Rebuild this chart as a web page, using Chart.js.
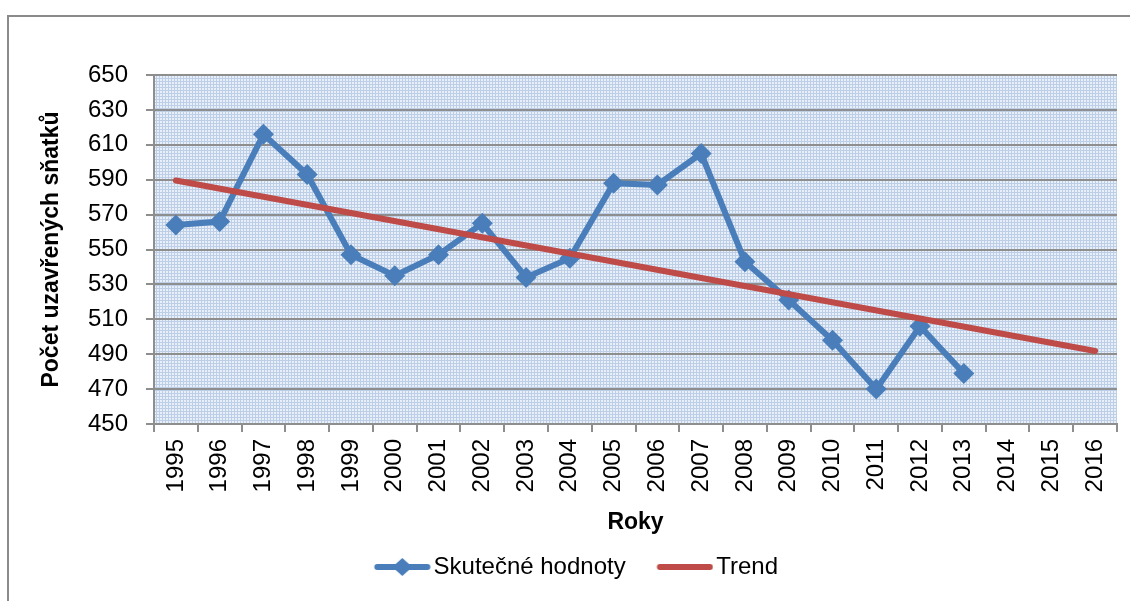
<!DOCTYPE html>
<html>
<head>
<meta charset="utf-8">
<script src="https://cdn.jsdelivr.net/npm/chart.js@4"></script>
<style>
    html, body { margin: 0; padding: 0; background: #fff; }
    #obal { position: relative; width: 1130px; height: 601px; overflow: hidden; }
    #ramecek {
        position: absolute; left: 7px; top: 15px; width: 1200px; height: 700px;
        border-left: 2px solid #8a8a8a; border-top: 2px solid #8a8a8a;
    }
    #graf { position: absolute; left: 0; top: 0; }
</style>
</head>
<body>
<div id="obal">
    <div id="ramecek"></div>
    <canvas id="graf" width="1130" height="601"></canvas>
</div>
<script>
// Hodnoty
const roky = ['1995', '1996', '1997', '1998', '1999', '2000', '2001', '2002', '2003', '2004', '2005',
              '2006', '2007', '2008', '2009', '2010', '2011', '2012', '2013', '2014', '2015', '2016'];
const skutecneHodnoty = [564, 566, 616, 593, 547, 535, 547, 565, 534, 545, 588,
                         587, 605, 543, 521, 498, 470, 506, 479, null, null, null];
// trend je přímka - jen krajní body, mezera se propojí
const trendHodnoty = [589.5, null, null, null, null, null, null, null, null, null, null,
                      null, null, null, null, null, null, null, null, null, null, 491.8];

const MODRA = '#4a7ebb';
const CERVENA = '#be4b48';
const SEDA = '#8e8e8e';

Chart.defaults.font.family = '"Liberation Sans", Arial, sans-serif';
Chart.defaults.color = '#000';

// vzorek pozadí oblasti grafu (jemná modrá mřížka jako v Excelu)
function vytvorVzorek() {
    const c = document.createElement('canvas');
    c.width = 3; c.height = 3;
    const g = c.getContext('2d');
    g.fillStyle = '#e8eff8';
    g.fillRect(0, 0, 3, 3);
    g.fillStyle = '#bccfe7';
    g.fillRect(0, 0, 3, 1);
    g.fillRect(0, 0, 1, 3);
    return c;
}

const pozadiPlugin = {
    id: 'pozadi',
    beforeDraw(chart) {
        const { ctx, chartArea } = chart;
        ctx.save();
        ctx.fillStyle = ctx.createPattern(vytvorVzorek(), 'repeat');
        ctx.fillRect(chartArea.left, chartArea.top, chartArea.right - chartArea.left, chartArea.bottom - chartArea.top);
        ctx.restore();
    }
};

function ikonaLegendy(barva, sKosoctvercem) {
    const c = document.createElement('canvas');
    c.width = 87; c.height = 24;
    const g = c.getContext('2d');
    g.strokeStyle = barva;
    g.lineWidth = 6;
    g.lineCap = 'round';
    g.beginPath();
    g.moveTo(33.5, 12);
    g.lineTo(83.5, 12);
    g.stroke();
    if (sKosoctvercem) {
        g.fillStyle = barva;
        g.beginPath();
        g.moveTo(58.5 - 10, 12);
        g.lineTo(58.5, 12 - 9);
        g.lineTo(58.5 + 10, 12);
        g.lineTo(58.5, 12 + 9);
        g.closePath();
        g.fill();
    }
    return c;
}
const ikony = [ikonaLegendy(MODRA, true), ikonaLegendy(CERVENA, false)];

new Chart(document.getElementById('graf'), {
    type: 'line',
    data: {
        labels: roky,
        datasets: [
            {
                label: 'Skutečné hodnoty',
                data: skutecneHodnoty,
                borderColor: MODRA,
                backgroundColor: MODRA,
                borderWidth: 6,
                pointStyle: 'rectRot',
                pointRadius: 10.5,
                pointBorderWidth: 0,
                pointBackgroundColor: MODRA,
                order: 1
            },
            {
                label: 'Trend',
                data: trendHodnoty,
                borderColor: CERVENA,
                backgroundColor: CERVENA,
                borderWidth: 6,
                borderCapStyle: 'round',
                pointRadius: 0,
                spanGaps: true,
                order: 0
            }
        ]
    },
    options: {
        responsive: false,
        animation: false,
        events: [],
        layout: { padding: { top: 75, right: 13, bottom: 12, left: 14 } },
        plugins: {
            tooltip: { enabled: false },
            legend: {
                position: 'bottom',
                labels: {
                    font: { size: 24 },
                    padding: 10,
                    usePointStyle: true,
                    pointStyleWidth: 68.5,
                    sort: (a, b) => a.datasetIndex - b.datasetIndex,
                    generateLabels(chart) {
                        const polozky = Chart.defaults.plugins.legend.labels.generateLabels(chart);
                        polozky.forEach(p => { p.pointStyle = ikony[p.datasetIndex]; });
                        return polozky;
                    }
                }
            }
        },
        scales: {
            x: {
                offset: true,
                grid: { offset: true, drawOnChartArea: false, color: SEDA, lineWidth: 2, tickLength: 8 },
                border: { color: SEDA, width: 2 },
                ticks: { font: { size: 24 }, minRotation: 90, maxRotation: 90, autoSkip: false, padding: 7 },
                title: { display: true, text: 'Roky', font: { size: 23, weight: 'bold' }, padding: { top: 0, bottom: 9 } },
                afterFit(scale) {
                    scale.height = 121;
                    scale.paddingLeft = 0;
                    scale.paddingRight = 0;
                }
            },
            y: {
                min: 450,
                max: 650,
                grid: { color: SEDA, lineWidth: 2, tickLength: 8 },
                border: { color: SEDA, width: 2 },
                ticks: { font: { size: 24 }, stepSize: 20, padding: 18 },
                title: { display: true, text: 'Počet uzavřených sňatků', font: { size: 23, weight: 'bold' }, padding: { top: 24, bottom: 0 } },
                afterFit(scale) { scale.width = 140; }
            }
        }
    },
    plugins: [pozadiPlugin]
});
</script>
</body>
</html>
